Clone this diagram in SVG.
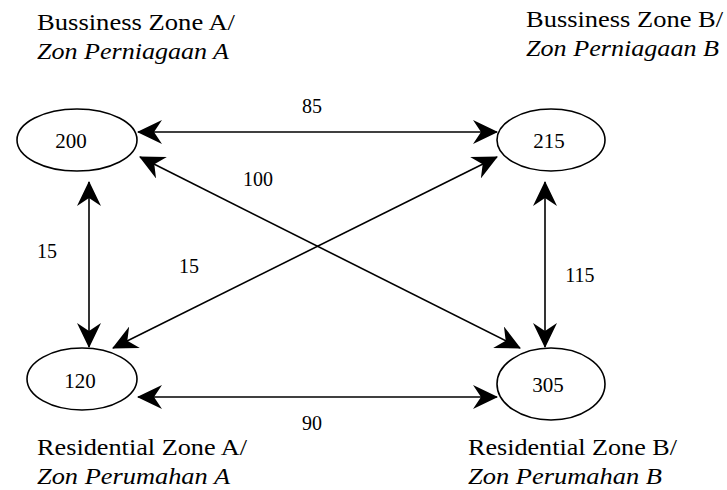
<svg xmlns="http://www.w3.org/2000/svg" width="727" height="490" viewBox="0 0 727 490">
<style>
text{font-family:"Liberation Serif","Times New Roman",serif;fill:#000}
.node ellipse{fill:#fff;stroke:#000;stroke-width:1.6}
.num{font-size:21px;text-anchor:middle}
.lbl{font-size:20px;text-anchor:middle}
.zone{font-size:23px}
.it{font-style:italic}
#connectors line{stroke:#000;stroke-width:1.6;fill:none;marker-start:url(#ah);marker-end:url(#ah)}
</style>
<defs>
<marker id="ah" viewBox="0 0 25 24" refX="24" refY="12" markerWidth="25" markerHeight="24" markerUnits="userSpaceOnUse" orient="auto-start-reverse">
<path d="M25,12 L0,0 L8,12 L0,24 Z" fill="#000"/>
</marker>
</defs>
<rect width="727" height="490" fill="#fff"/>
<g id="connectors">
<line x1="138" y1="132" x2="497" y2="132"/>
<line x1="138" y1="397" x2="497" y2="397"/>
<line x1="89" y1="182" x2="89" y2="347"/>
<line x1="545" y1="182" x2="545" y2="347"/>
<line x1="140" y1="157" x2="520" y2="348"/>
<line x1="113" y1="348" x2="497" y2="157"/>
</g>
<g id="edge-labels">
<text class="lbl" x="312" y="113">85</text>
<text class="lbl" x="258" y="186">100</text>
<text class="lbl" x="47" y="258">15</text>
<text class="lbl" x="189" y="273">15</text>
<text class="lbl" x="580" y="282">115</text>
<text class="lbl" x="312" y="430">90</text>
</g>
<g id="node-200" class="node">
<ellipse cx="77" cy="140" rx="60" ry="31"/>
<text class="num" x="71" y="148">200</text>
</g>
<g id="node-215" class="node">
<ellipse cx="551" cy="140" rx="54" ry="31"/>
<text class="num" x="549" y="148">215</text>
</g>
<g id="node-120" class="node">
<ellipse cx="82" cy="379" rx="55" ry="31"/>
<text class="num" x="80" y="388">120</text>
</g>
<g id="node-305" class="node">
<ellipse cx="551" cy="384" rx="54" ry="36"/>
<text class="num" x="548" y="392">305</text>
</g>
<g id="zone-labels">
<text class="zone" x="37" y="30" textLength="198" lengthAdjust="spacingAndGlyphs">Bussiness Zone A/</text>
<text class="zone it" x="37" y="59" textLength="192" lengthAdjust="spacingAndGlyphs">Zon Perniagaan A</text>
<text class="zone" x="526" y="27" textLength="197" lengthAdjust="spacingAndGlyphs">Bussiness Zone B/</text>
<text class="zone it" x="526" y="56" textLength="193" lengthAdjust="spacingAndGlyphs">Zon Perniagaan B</text>
<text class="zone" x="37" y="455" textLength="210" lengthAdjust="spacingAndGlyphs">Residential Zone A/</text>
<text class="zone it" x="37" y="484" textLength="193" lengthAdjust="spacingAndGlyphs">Zon Perumahan A</text>
<text class="zone" x="468" y="455" textLength="209" lengthAdjust="spacingAndGlyphs">Residential Zone B/</text>
<text class="zone it" x="468" y="484" textLength="194" lengthAdjust="spacingAndGlyphs">Zon Perumahan B</text>
</g>
</svg>
